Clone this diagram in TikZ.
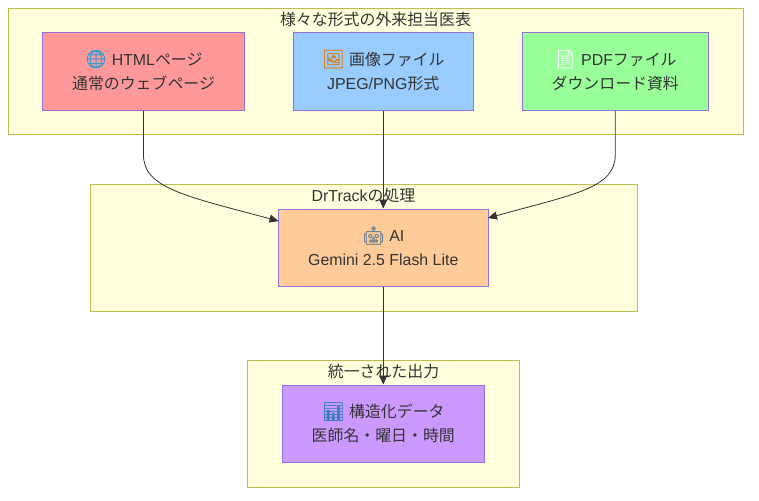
\documentclass[tikz,border=0pt]{standalone}
\usepackage{fontspec}
\setmainfont{Liberation Sans}
\newfontfamily\cj{Noto Sans CJK JP}
\newfontfamily\emo[FakeBold=1]{Noto Emoji}
\usetikzlibrary{arrows.meta}
\definecolor{txt}{HTML}{333333}
\definecolor{nodeline}{HTML}{9370DB}
\definecolor{clfill}{HTML}{FFFFDE}
\definecolor{clline}{HTML}{BDBD4F}
\definecolor{fhtml}{HTML}{FF9999}
\definecolor{fimg}{HTML}{99CCFF}
\definecolor{fpdf}{HTML}{99FF99}
\definecolor{fai}{HTML}{FFCC99}
\definecolor{fdata}{HTML}{CC99FF}
\newcommand{\ic}[2]{{\fontsize{18}{24}\selectfont\emo\textcolor[HTML]{#1}{#2}}}
\tikzset{
  x=1pt,y=-1pt,
  every node/.style={text=txt,font=\fontsize{15.9}{24}\selectfont},
  clusterbox/.style={draw=clline,fill=clfill,line width=1pt,anchor=north west,inner sep=0pt},
  procbox/.style={draw=nodeline,line width=1pt,align=center,inner sep=0pt,text height=42pt,text depth=6pt},
  cltitle/.style={inner sep=0pt,anchor=center},
  link/.style={draw=txt,line width=0.8pt,-{Triangle[length=9pt,width=8pt]}},
}
\begin{document}
\begin{tikzpicture}
\useasboundingbox (0,0) rectangle (759,500);
% clusters
\node[clusterbox,minimum width=735pt,minimum height=126pt] (c1) at (7.75,7.75) {};
\node[clusterbox,minimum width=547pt,minimum height=127pt] (c2) at (89.75,183.75) {};
\node[clusterbox,minimum width=271.5pt,minimum height=126.5pt] (c3) at (247.25,360.25) {};
% titles
\node[cltitle] (t1) at (375.5,19) {{\cj 様々な形式の外来担当医表}};
\node[cltitle] (t2) at (363.5,195) {DrTrack{\cj の処理}};
\node[cltitle] (t3) at (383.5,371) {{\cj 統一された出力}};
% process boxes
\node[procbox,fill=fhtml,minimum width=202pt,minimum height=77.5pt] (html) at (143.5,71.25)
  {\ic{2A9FD8}{🌐} HTML{\cj ページ}\\{\cj 通常のウェブページ}};
\node[procbox,fill=fimg,minimum width=180pt,minimum height=77.5pt] (img) at (383.25,71.25)
  {\ic{D9821E}{🖼} {\cj 画像ファイル}\\JPEG/PNG{\cj 形式}};
\node[procbox,fill=fpdf,minimum width=186.5pt,minimum height=77.5pt] (pdf) at (615.25,71.25)
  {\ic{F4F6F8}{📄} PDF{\cj ファイル}\\{\cj ダウンロード資料}};
\node[procbox,fill=fai,minimum width=209.5pt,minimum height=77.5pt] (ai) at (383.25,247.75)
  {\ic{6F8591}{🤖} AI\\Gemini 2.5 Flash Lite};
\node[procbox,fill=fdata,minimum width=202.5pt,minimum height=77.5pt] (data) at (383.25,423.75)
  {\ic{3F7FBF}{📊} {\cj 構造化データ}\\{\cj 医師名・曜日・時間}};
% connectors
\coordinate (aiL) at (278.5,221);
\coordinate (aiR) at (488,218);
\draw[link] (html.south) -- (143.5,155) .. controls (143.5,188) and (185,196) .. (aiL);
\draw[link] (img.south) -- (ai.north);
\draw[link] (pdf.south) -- (615.25,155) .. controls (615.25,188) and (575,194) .. (aiR);
\draw[link] (ai.south) -- (data.north);
\end{tikzpicture}
\end{document}
